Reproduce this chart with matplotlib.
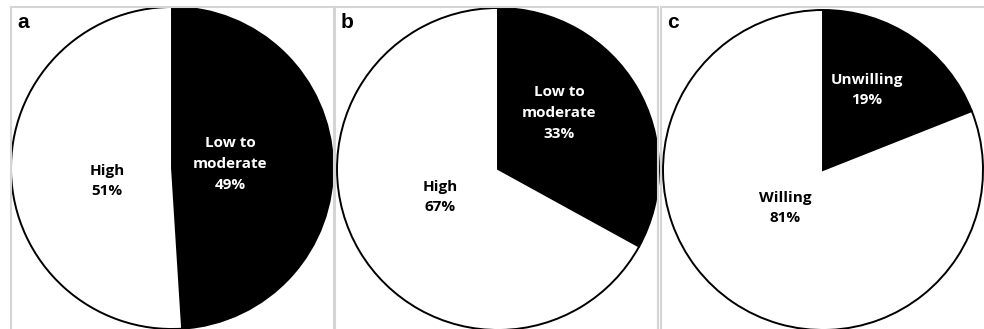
import matplotlib
matplotlib.use("Agg")
import matplotlib.pyplot as plt

# ---- data ----
panel_letters = ["a", "b", "c"]
labels_a = ["Low to\nmoderate", "High"]
values_a = [49, 51]
labels_b = ["Low to\nmoderate", "High"]
values_b = [33, 67]
labels_c = ["Unwilling", "Willing"]
values_c = [19, 81]

# ---- layout (pixels) ----
W, H = 984, 329
DPI = 100
fig = plt.figure(figsize=(W / DPI, H / DPI), dpi=DPI)
fig.patch.set_facecolor("white")

panels = [
    dict(box=(11, 334), center=(172, 168), r=161, labels=labels_a, values=values_a,
         offs=[(58, 4), (-65, -13)], right_spine=True),
    dict(box=(335, 658), center=(498, 169), r=161, labels=labels_b, values=values_b,
         offs=[(61, 56), (-58, -28)], right_spine=True),
    dict(box=(661, 995), center=(823, 170), r=160, labels=labels_c, values=values_c,
         offs=[(44, 80), (-38, -38)], right_spine=False),
]
top_px = 7
text_font = ["Open Sans", "DejaVu Sans"]

for letter, p in zip(panel_letters, panels):
    x0, x1 = p["box"]
    ax = fig.add_axes([x0 / W, 0, (x1 - x0) / W, (H - top_px) / H])
    cx, cy = p["center"]
    cyd = H - cy
    ax.pie(p["values"], colors=["black", "white"], startangle=90,
           counterclock=False, center=(cx, cyd), radius=p["r"],
           wedgeprops=dict(edgecolor="black", linewidth=1.4),
           frame=True)
    ax.set_xlim(x0, x1)
    ax.set_ylim(0, H - top_px)
    ax.set_aspect("auto")
    ax.set_xticks([])
    ax.set_yticks([])
    ax.set_facecolor("white")
    for side in ["left", "top", "right"]:
        ax.spines[side].set_color("#d4d4d4")
        ax.spines[side].set_linewidth(1.5)
    ax.spines["bottom"].set_visible(False)
    if not p["right_spine"]:
        ax.spines["right"].set_visible(False)

    for lab, val, (dx, dy), col in zip(p["labels"], p["values"], p["offs"], ["white", "black"]):
        ax.text(cx + dx, cyd + dy, f"{lab}\n{val}%", ha="center", va="center",
                color=col, fontsize=11, fontweight="bold", family=text_font,
                linespacing=1.6)

    ax.text(x0 + 6, H - top_px - 21, letter, ha="left", va="baseline",
            fontsize=15, fontweight="bold", family=["Liberation Sans", "DejaVu Sans"])

fig.savefig("out.png", dpi=DPI, facecolor="white")
